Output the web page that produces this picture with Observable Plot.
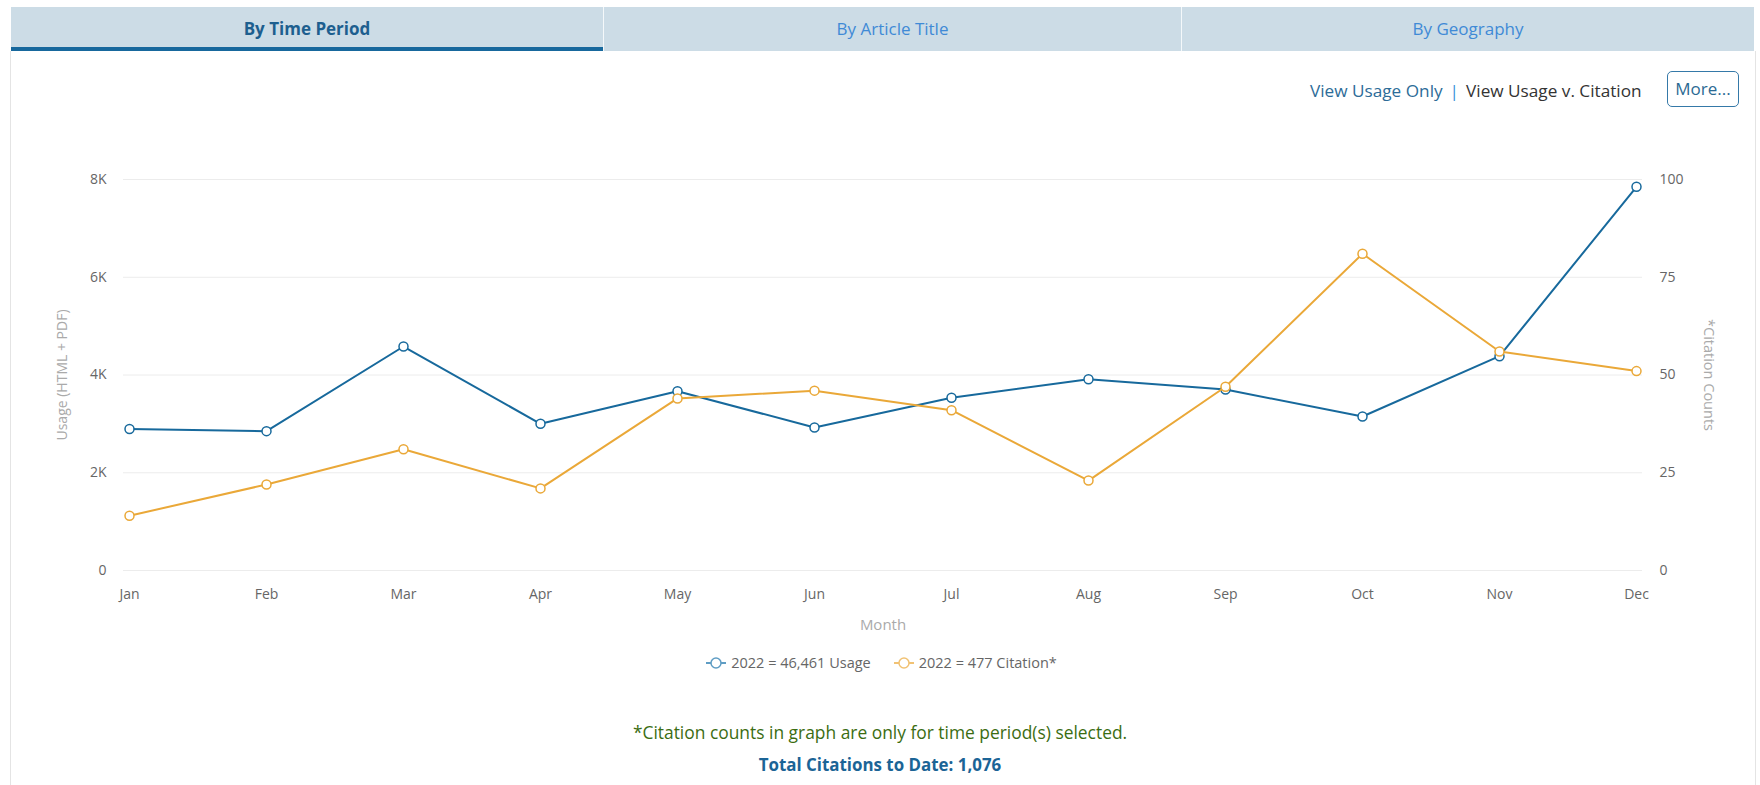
<!DOCTYPE html>
<html>
<head>
<meta charset="utf-8">
<script src="https://cdn.jsdelivr.net/npm/d3@7"></script>
<script src="https://cdn.jsdelivr.net/npm/@observablehq/plot@0.6"></script>
<style>
  html, body { margin: 0; padding: 0; background: #fff; }
  body { width: 1760px; height: 785px; position: relative; overflow: hidden; font-family: "Open Sans", sans-serif; }
  #tabs { position: absolute; left: 11px; top: 7px; width: 1743px; height: 44px; background: #ccdce6; }
  .tab { position: absolute; top: 0; height: 44px; line-height: 44px; text-align: center; font-size: 17px; color: #3f8ad6; box-sizing: border-box; }
  .tab.active { font-weight: 700; color: #1d5f8f; border-bottom: 4px solid #17689d; line-height: 44px; }
  .sep { position: absolute; top: 0; width: 1px; height: 44px; background: #f4f8fa; }
  #panel { position: absolute; left: 10px; top: 51px; width: 1746px; height: 760px; border-left: 1px solid #e4e4e4; border-right: 1px solid #e4e4e4; box-sizing: border-box; }
  #links { position: absolute; top: 78px; left: 1310px; font-size: 17.2px; white-space: nowrap; line-height: 26px; }
  #links .a { color: #2d6c98; }
  #links .bar { color: #3b8fd9; margin: 0 7px; }
  #links .cur { color: #333; }
  #more { position: absolute; left: 1667px; top: 71px; width: 72px; height: 36px; box-sizing: border-box; border: 1px solid #3579a8; border-radius: 5px; color: #2b6a93; font-size: 17px; line-height: 33px; text-align: center; }
  #chart { position: absolute; left: 0; top: 130px; width: 1760px; height: 510px; }
  #chart svg { position: absolute; left: 0; top: 0; }
  #legend { position: absolute; left: 0; width: 1760px; top: 652px; display: flex; justify-content: center; gap: 22px; font-size: 14.5px; color: #666; line-height: 22px; padding-left: 2px; box-sizing: border-box; }
  #legend .item { display: flex; align-items: center; gap: 4px; }
  #note { position: absolute; left: 0; width: 1760px; top: 719px; text-align: center; font-size: 17.4px; color: #3b6d12; line-height: 26px; }
  #total { position: absolute; left: 0; width: 1760px; top: 752px; text-align: center; font-size: 16.9px; font-weight: 700; color: #1b6496; line-height: 26px; }
</style>
</head>
<body>
<div id="panel"></div>
<div id="tabs">
  <div class="tab active" style="left:0;width:592px;">By Time Period</div>
  <div class="sep" style="left:592px;"></div>
  <div class="tab" style="left:593px;width:577px;">By Article Title</div>
  <div class="sep" style="left:1170px;"></div>
  <div class="tab" style="left:1171px;width:572px;">By Geography</div>
</div>
<div id="links"><span class="a">View Usage Only</span><span class="bar">|</span><span class="cur">View Usage v. Citation</span></div>
<div id="more">More...</div>
<div id="chart"></div>
<div id="legend"></div>
<div id="note">*Citation counts in graph are only for time period(s) selected.</div>
<div id="total">Total Citations to Date: 1,076</div>
<script>
// ---- data ----
const months = ["Jan", "Feb", "Mar", "Apr", "May", "Jun", "Jul", "Aug", "Sep", "Oct", "Nov", "Dec"];
const usage = [2895, 2851, 4583, 3001, 3669, 2926, 3533, 3914, 3703, 3151, 4385, 7850];
const citations = [14, 22, 31, 21, 44, 46, 41, 23, 47, 81, 56, 51];
const usageTicks = [0, 2000, 4000, 6000, 8000];
const citationTicks = [0, 25, 50, 75, 100];
const year = 2022;

const blue = "#17699c";
const orange = "#eaa838";

const usageData = months.map((m, i) => ({month: m, value: usage[i]}));
const citationData = months.map((m, i) => ({month: m, value: citations[i]}));

const common = {
  width: 1760,
  height: 510,
  marginTop: 49,
  marginBottom: 70,
  marginLeft: 123,
  marginRight: 118,
  style: {background: "transparent", fontFamily: "'Open Sans', sans-serif", fontSize: "14px", color: "#666", overflow: "visible"}
};
const xScale = {type: "point", domain: months, padding: 0, inset: 5};

const usagePlot = Plot.plot({
  ...common,
  x: xScale,
  y: {domain: [0, 8000]},
  marks: [
    Plot.ruleY(usageTicks, {stroke: "#ececec", strokeWidth: 1}),
    Plot.axisY(usageTicks, {anchor: "left", tickSize: 0, tickPadding: 17, tickFormat: d => d === 0 ? "0" : d / 1000 + "K", label: null}),
    Plot.axisX({anchor: "bottom", tickSize: 0, tickPadding: 19, label: null}),
    Plot.text(["Usage (HTML + PDF)"], {text: d => d, frameAnchor: "left", textAnchor: "middle", lineAnchor: "middle", dx: -61, rotate: -90, fill: "#aaa", fontSize: 14}),
    Plot.text(["Month"], {text: d => d, frameAnchor: "bottom", lineAnchor: "middle", dy: 55, fill: "#aaa", fontSize: 15}),
    Plot.line(usageData, {x: "month", y: "value", stroke: blue, strokeWidth: 2}),
    Plot.dot(usageData, {x: "month", y: "value", r: 4.5, fill: "white", stroke: blue, strokeWidth: 1.5})
  ]
});

const citationPlot = Plot.plot({
  ...common,
  x: {...xScale, axis: null},
  y: {domain: [0, 100], axis: null},
  marks: [
    Plot.axisY(citationTicks, {anchor: "right", tickSize: 0, tickPadding: 17, label: null}),
    Plot.text(["*Citation Counts"], {text: d => d, frameAnchor: "right", textAnchor: "middle", lineAnchor: "middle", dx: 66, rotate: 90, fill: "#aaa", fontSize: 14.5}),
    Plot.line(citationData, {x: "month", y: "value", stroke: orange, strokeWidth: 2}),
    Plot.dot(citationData, {x: "month", y: "value", r: 4.5, fill: "white", stroke: orange, strokeWidth: 1.5})
  ]
});

const chart = document.getElementById("chart");
chart.appendChild(usagePlot);
chart.appendChild(citationPlot);

// legend
const fmt = d3.format(",");
const legendItems = [
  {color: "#5f9dc4", text: `${year} = ${fmt(d3.sum(usage))} Usage`},
  {color: "#f1c274", text: `${year} = ${fmt(d3.sum(citations))} Citation*`}
];
const legend = document.getElementById("legend");
for (const it of legendItems) {
  const span = document.createElement("span");
  span.className = "item";
  span.innerHTML = `<svg width="22" height="14"><line x1="1" x2="21" y1="7" y2="7" stroke="${it.color}" stroke-width="2"/><circle cx="11" cy="7" r="5" fill="white" stroke="${it.color}" stroke-width="1.5"/></svg><span>${it.text}</span>`;
  legend.appendChild(span);
}
</script>
</body>
</html>
